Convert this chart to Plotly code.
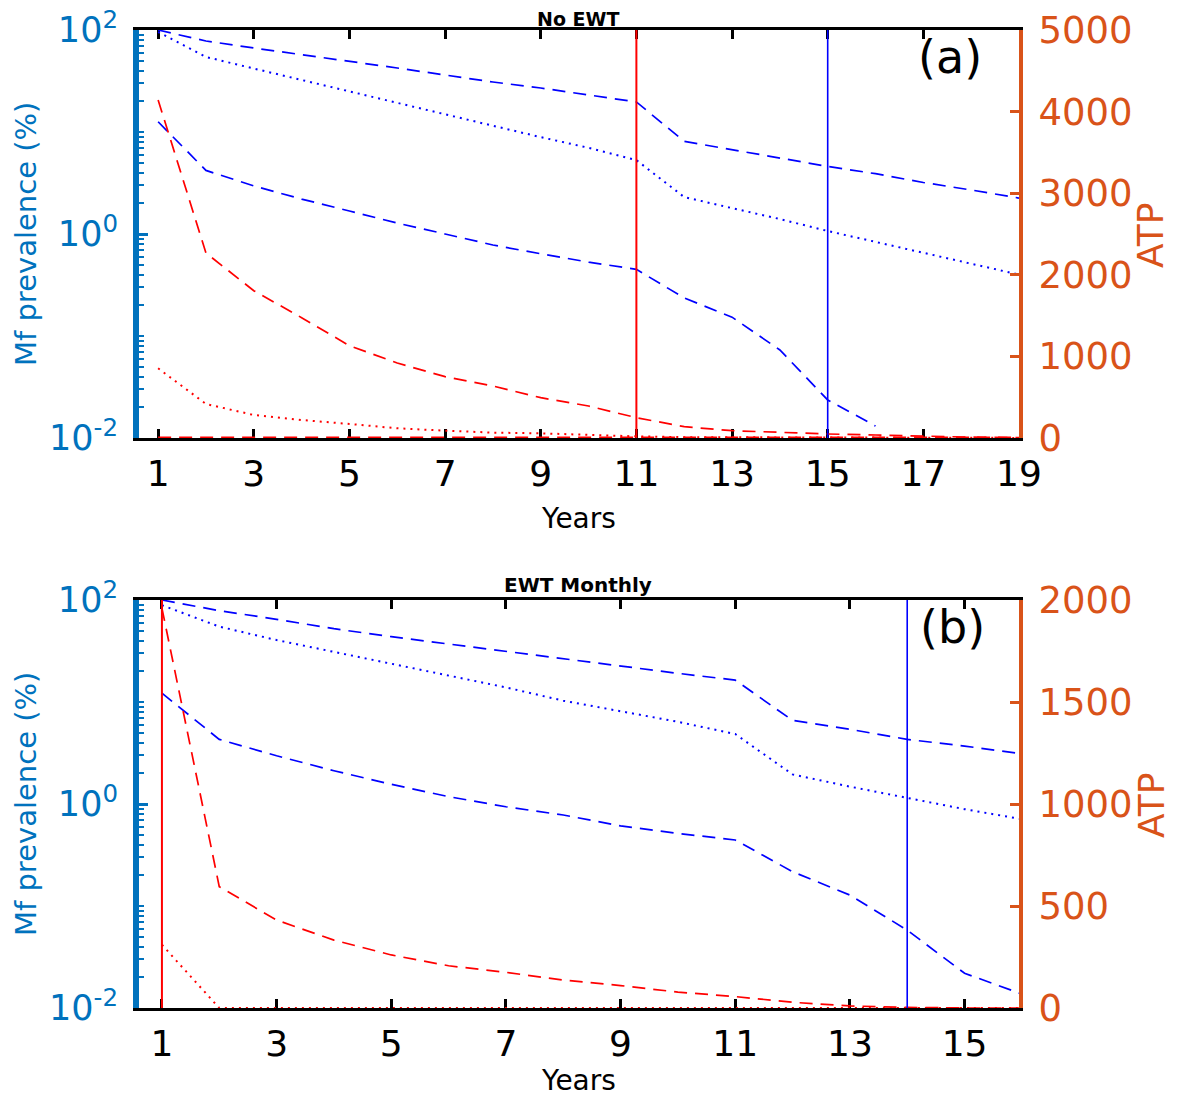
import plotly.graph_objects as go

# ---- panel (a): No EWT ----
years_a = [1, 2, 3, 4, 5, 6, 7, 8, 9, 10, 11, 12, 13, 14, 15, 16, 17, 18, 19]
a_mf_upper = [100, 78, 66.6, 57.5, 49.7, 42.4, 36.2, 30.9, 27.0, 23.1, 19.7,
              8.1, 6.7, 5.6, 4.6, 3.9, 3.2, 2.7, 2.25]
a_mf_mid = [95.6, 54.4, 41.9, 32.3, 25.2, 19.2, 15.0, 11.6, 8.9, 7.0, 5.3,
            2.3, 1.8, 1.40, 1.07, 0.835, 0.65, 0.51, 0.40]
a_mf_lower = [12.6, 4.2, 2.96, 2.2, 1.68, 1.28, 1.0, 0.78, 0.64, 0.53, 0.45,
              0.236, 0.153, 0.073, 0.0236, 0.0131, None, None, None]
a_atp_dash = [4142, 2267, 1805, 1475, 1131, 919, 752, 637, 494, 392, 249,
              139, 90, 65, 49, 37, 20, 10, 5]
a_atp_dot = [854, 417, 282, 221, 172, 119, 90, 66, 57, 37, 20,
             10, 8, 6, 5, 4, 3, 2, 1]
a_atp_zero = [0, 0, 0, 0, 0, 0, 0, 0, 0, 0, 0, 0, 0, 0, 0, 0, 0, 0, 0]
a_vline_red = 11
a_vline_blue = 15

# ---- panel (b): EWT Monthly ----
years_b = [1, 2, 3, 4, 5, 6, 7, 8, 9, 10, 11, 12, 13, 14, 15, 16]
b_mf_upper = [100, 78.6, 64.7, 52.3, 43.7, 37.0, 31.4, 26.6, 22.5, 19.1, 16.4,
              6.6, 5.4, 4.3, 3.7, 3.1]
b_mf_mid = [89, 54.8, 40.5, 31.1, 23.9, 18.1, 13.9, 10.3, 8.1, 6.4, 4.85,
            1.95, 1.48, 1.14, 0.89, 0.71]
b_mf_lower = [12.2, 4.3, 2.97, 2.12, 1.56, 1.18, 0.94, 0.78, 0.61, 0.515, 0.444,
              0.217, 0.128, 0.058, 0.0219, 0.0137]
b_atp_dash = [1960, 595, 431, 333, 260, 207, 175, 137, 110, 78, 56,
              28, 10, 3, 0, 0]
b_atp_dot = [310, 0, 0, 0, 0, 0, 0, 0, 0, 0, 0, 0, 0, 0, 0, 0]
b_vline_red = 1
b_vline_blue = 14

# page has an 8px body margin, so the figure is sized to fit inside it
OFF = 8
W, H = 1181 - 2 * OFF, 1104 - 2 * OFF
BLUE_AX = "#0072BD"
ORANGE_AX = "#D95319"
FONT = "DejaVu Sans"


def px_x(p):
    return (p - OFF) / W


def px_y(p):
    return 1 - (p - OFF) / H


fig = go.Figure()

panels = [
    dict(x="x", y="y", y2="y2", years=years_a, up=a_mf_upper, mid=a_mf_mid,
         low=a_mf_lower, dash=a_atp_dash, dot=a_atp_dot, zero=a_atp_zero,
         vr=a_vline_red, vb=a_vline_blue),
    dict(x="x2", y="y3", y2="y4", years=years_b, up=b_mf_upper, mid=b_mf_mid,
         low=b_mf_lower, dash=b_atp_dash, dot=b_atp_dot, zero=None,
         vr=b_vline_red, vb=b_vline_blue),
]

DASH = "13px,8px"
DOT = "2px,5px"

for p in panels:
    yrs = p["years"]
    fig.add_trace(go.Scatter(x=yrs, y=p["up"], mode="lines", xaxis=p["x"], yaxis=p["y"],
                             line=dict(color="blue", width=1.7, dash=DASH)))
    fig.add_trace(go.Scatter(x=yrs, y=p["mid"], mode="lines", xaxis=p["x"], yaxis=p["y"],
                             line=dict(color="blue", width=2, dash=DOT)))
    fig.add_trace(go.Scatter(x=yrs, y=p["low"], mode="lines", xaxis=p["x"], yaxis=p["y"],
                             line=dict(color="blue", width=1.7, dash=DASH)))
    if p["zero"] is not None:
        fig.add_trace(go.Scatter(x=yrs, y=p["zero"], mode="lines", xaxis=p["x"], yaxis=p["y2"],
                                 line=dict(color="red", width=3, dash=DASH)))
    fig.add_trace(go.Scatter(x=yrs, y=p["dash"], mode="lines", xaxis=p["x"], yaxis=p["y2"],
                             line=dict(color="red", width=1.7, dash=DASH)))
    fig.add_trace(go.Scatter(x=yrs, y=p["dot"], mode="lines", xaxis=p["x"], yaxis=p["y2"],
                             line=dict(color="red", width=2, dash=DOT)))
    fig.add_shape(type="line", xref=p["x"], yref=p["y"] + " domain",
                  x0=p["vr"], x1=p["vr"], y0=0, y1=1, line=dict(color="red", width=2))
    fig.add_shape(type="line", xref=p["x"], yref=p["y"] + " domain",
                  x0=p["vb"], x1=p["vb"], y0=0, y1=1, line=dict(color="blue", width=1.6))

xdom = [px_x(139), px_x(1019)]
dom_a = [px_y(438), px_y(30)]
dom_b = [px_y(1008), px_y(600)]

minor_vals = [k * 10 ** e for e in range(-2, 2) for k in range(2, 10)] + [0.1, 10]


def xaxis_cfg(dom, anchor, rng, ticks):
    return dict(domain=dom, anchor=anchor, range=rng, tickvals=ticks, automargin=False,
                ticks="inside", ticklen=9, tickwidth=3, tickcolor="black",
                showline=True, linecolor="black", linewidth=3, mirror="ticks",
                layer="below traces", ticklabeloverflow="allow",
                showgrid=False, zeroline=False, ticklabelstandoff=2,
                tickfont=dict(size=36, color="black", family=FONT))


def ylog_cfg(dom, anchor):
    return dict(domain=dom, anchor=anchor, type="log", range=[-2, 2], automargin=False,
                tickvals=[0.01, 1, 100],
                ticktext=["10<sup>-2</sup>", "10<sup>0</sup>", "10<sup>2</sup>"],
                ticks="inside", ticklen=9, tickwidth=3, tickcolor=BLUE_AX,
                showline=True, linecolor=BLUE_AX, linewidth=6,
                ticklabeloverflow="allow",
                showgrid=False, zeroline=False, ticklabelstandoff=8,
                minor=dict(tickvals=minor_vals, ticks="inside", ticklen=5,
                           tickwidth=2, tickcolor=BLUE_AX, showgrid=False),
                tickfont=dict(size=35, color=BLUE_AX, family=FONT))


def yatp_cfg(over, anchor, rng, dtick):
    return dict(overlaying=over, anchor=anchor, side="right", range=rng, dtick=dtick,
                automargin=False, ticklabeloverflow="allow",
                ticks="inside", ticklen=9, tickwidth=3, tickcolor=ORANGE_AX,
                showline=True, linecolor=ORANGE_AX, linewidth=4,
                showgrid=False, zeroline=False, ticklabelstandoff=8,
                tickfont=dict(size=37, color=ORANGE_AX, family=FONT))


fig.update_layout(
    width=W, height=H,
    margin=dict(l=0, r=0, t=0, b=0, autoexpand=False),
    plot_bgcolor="white", paper_bgcolor="white",
    showlegend=False,
    font=dict(family=FONT),
    xaxis=xaxis_cfg(xdom, "y", [0.6, 19], [1, 3, 5, 7, 9, 11, 13, 15, 17, 19]),
    yaxis=ylog_cfg(dom_a, "x"),
    yaxis2=yatp_cfg("y", "x", [0, 5000], 1000),
    xaxis2=xaxis_cfg(xdom, "y3", [0.6, 15.95], [1, 3, 5, 7, 9, 11, 13, 15]),
    yaxis3=ylog_cfg(dom_b, "x2"),
    yaxis4=yatp_cfg("y3", "x2", [0, 2000], 500),
)

ann = [
    ("<b>No EWT</b>", 578, 19, 19, "black", 0),
    ("<b>EWT Monthly</b>", 578, 585, 20, "black", 0),
    ("(a)", 950, 57, 46, "black", 0),
    ("(b)", 952, 627, 46, "black", 0),
    ("Years", 578, 518, 28, "black", 0),
    ("Years", 578, 1080, 28, "black", 0),
    ("Mf prevalence (%)", 26, 234, 29, BLUE_AX, -90),
    ("Mf prevalence (%)", 26, 804, 29, BLUE_AX, -90),
    ("ATP", 1151, 235, 36, ORANGE_AX, -90),
    ("ATP", 1151, 805, 36, ORANGE_AX, -90),
]
for text, x, y, size, color, ang in ann:
    fig.add_annotation(text=text, x=px_x(x), y=px_y(y), xref="paper", yref="paper",
                       showarrow=False, textangle=ang, xanchor="center", yanchor="middle",
                       font=dict(size=size, color=color, family=FONT))

fig.write_html("out.html")
